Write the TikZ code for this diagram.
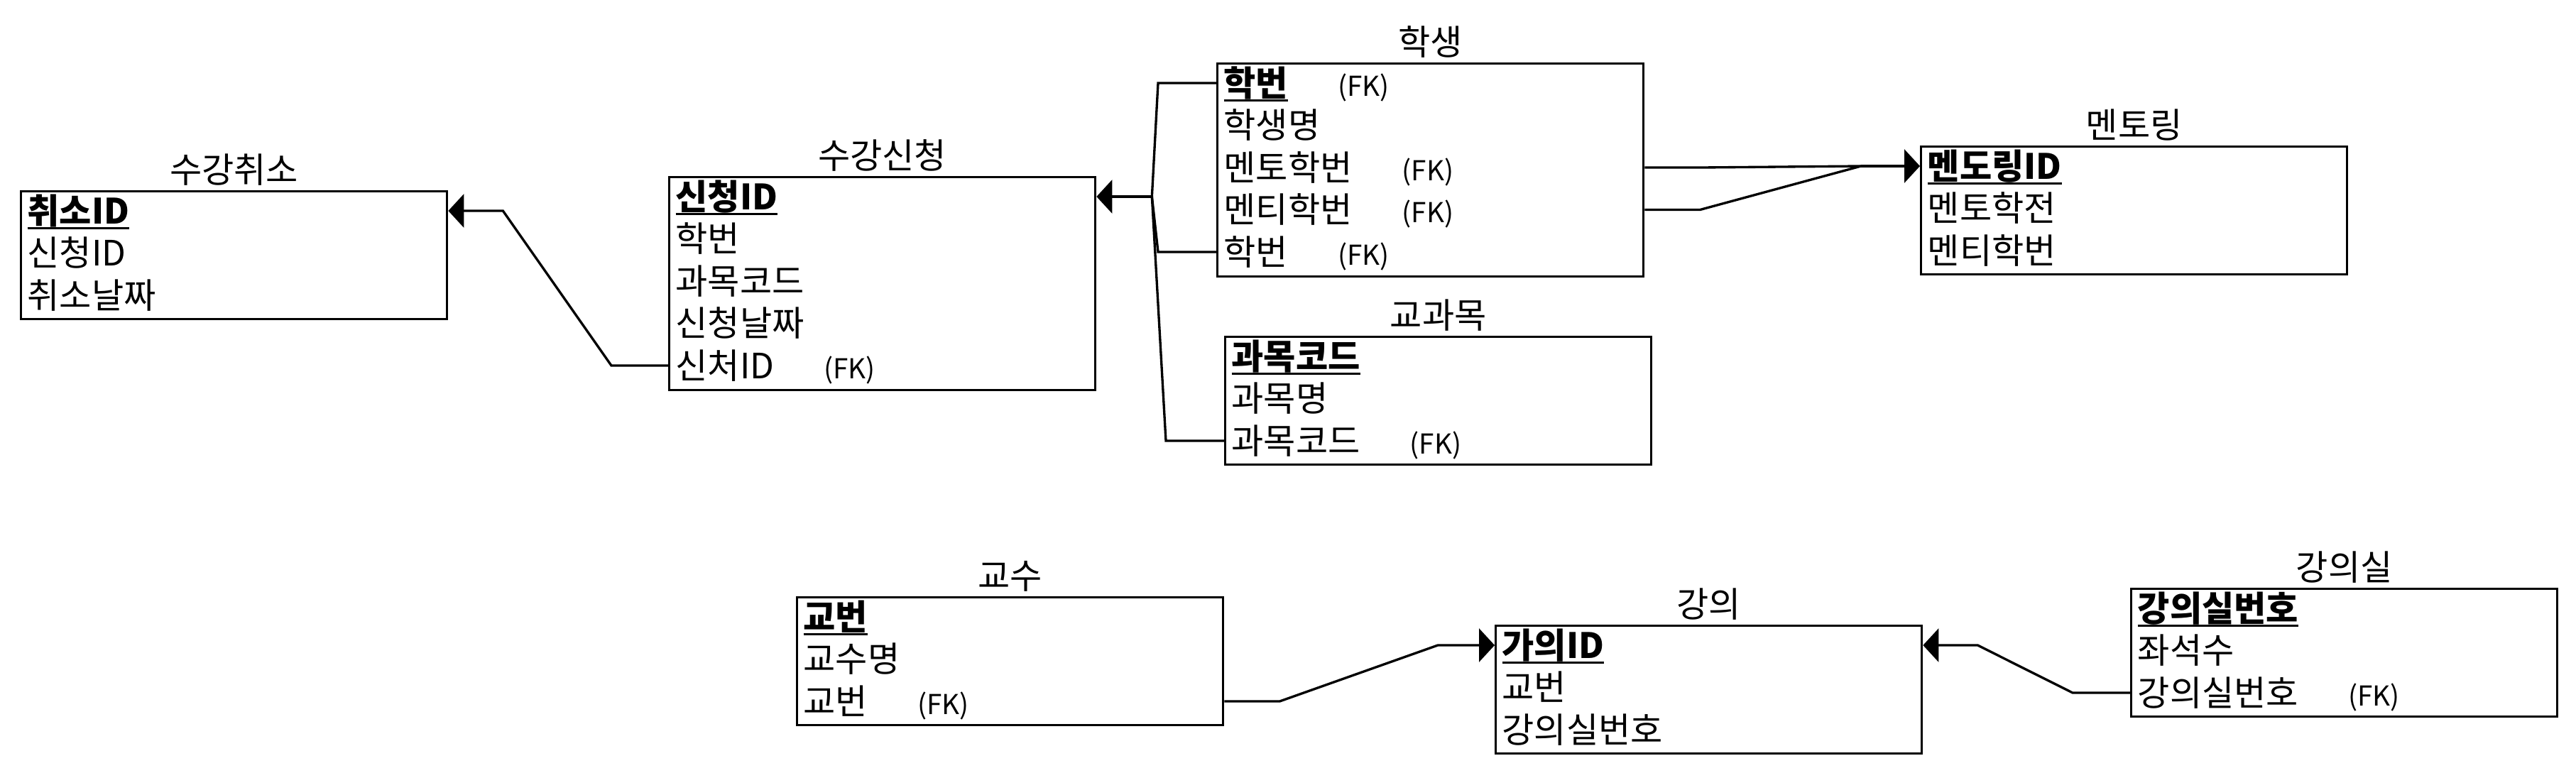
\documentclass[tikz,border=0pt]{standalone}
\usepackage{fontspec}
\setmainfont{Noto Sans CJK KR}
\usepackage{tikz}
\usetikzlibrary{arrows.meta,positioning}

\newcommand{\keyattr}[1]{\setbox0\hbox{\bfseries #1}\rlap{\lower0.15em\hbox{\vrule width\wd0 height 0.06em depth 0pt}}\box0}
\newcommand{\fklabel}{\hspace{0.7cm}{\fontsize{11}{13}\selectfont(FK)}}

\begin{document}
\begin{tikzpicture}[
    entity/.style={draw=black, line width=0.95pt, rectangle, anchor=north west, minimum width=6cm, minimum height=1.8cm, inner sep=0pt},
    tall/.style={entity, minimum height=3cm},
    title/.style={inner sep=0pt, font=\fontsize{14}{16}\selectfont, text height=12.3pt, text depth=1.8pt},
    row/.style={anchor=west, inner sep=0pt, font=\fontsize{14}{16}\selectfont, text height=12.3pt, text depth=1.8pt},
    conn/.style={line width=0.95pt},
    arrow/.style={conn, -{Triangle[length=0.22cm, width=0.47cm]}}
]
  \useasboundingbox (0,0) rectangle (36.28,-10.88);

  % Entities
  \node (can) [entity] at (0.28,-2.68) {};
  \node (enr) [tall] at (9.41,-2.48) {};
  \node (stu) [tall] at (17.13,-0.88) {};
  \node (crs) [entity] at (17.24,-4.73) {};
  \node (men) [entity] at (27.04,-2.05) {};
  \node (prf) [entity] at (11.21,-8.40) {};
  \node (lec) [entity] at (21.05,-8.80) {};
  \node (rom) [entity] at (30.00,-8.28) {};

  % Titles
  \node (t-can) [title, above=0.03cm of can] {수강취소};
  \node (t-enr) [title, above=0.03cm of enr] {수강신청};
  \node (t-stu) [title, above=0.03cm of stu] {학생};
  \node (t-crs) [title, above=0.03cm of crs] {교과목};
  \node (t-men) [title, above=0.03cm of men] {멘토링};
  \node (t-prf) [title, above=0.03cm of prf] {교수};
  \node (t-lec) [title, above=0.03cm of lec] {강의};
  \node (t-rom) [title, above=0.03cm of rom] {강의실};

  % Rows: 수강취소
  \node (c1) [row] at ([shift={(0.1,-0.29)}]can.north west) {\keyattr{취소ID}};
  \node (c2) [row] at ([yshift=-0.595cm]c1.west) {신청ID};
  \node (c3) [row] at ([yshift=-0.595cm]c2.west) {취소날짜};

  % Rows: 수강신청
  \node (e1) [row] at ([shift={(0.1,-0.29)}]enr.north west) {\keyattr{신청ID}};
  \node (e2) [row] at ([yshift=-0.595cm]e1.west) {학번};
  \node (e3) [row] at ([yshift=-0.595cm]e2.west) {과목코드};
  \node (e4) [row] at ([yshift=-0.595cm]e3.west) {신청날짜};
  \node (e5) [row] at ([yshift=-0.595cm]e4.west) {신처ID\fklabel};

  % Rows: 학생
  \node (s1) [row] at ([shift={(0.1,-0.29)}]stu.north west) {\keyattr{학번}\fklabel};
  \node (s2) [row] at ([yshift=-0.595cm]s1.west) {학생명};
  \node (s3) [row] at ([yshift=-0.595cm]s2.west) {멘토학번\fklabel};
  \node (s4) [row] at ([yshift=-0.595cm]s3.west) {멘티학번\fklabel};
  \node (s5) [row] at ([yshift=-0.595cm]s4.west) {학번\fklabel};

  % Rows: 교과목
  \node (k1) [row] at ([shift={(0.1,-0.29)}]crs.north west) {\keyattr{과목코드}};
  \node (k2) [row] at ([yshift=-0.595cm]k1.west) {과목명};
  \node (k3) [row] at ([yshift=-0.595cm]k2.west) {과목코드\fklabel};

  % Rows: 멘토링
  \node (m1) [row] at ([shift={(0.1,-0.29)}]men.north west) {\keyattr{멘도링ID}};
  \node (m2) [row] at ([yshift=-0.595cm]m1.west) {멘토학전};
  \node (m3) [row] at ([yshift=-0.595cm]m2.west) {멘티학번};

  % Rows: 교수
  \node (p1) [row] at ([shift={(0.1,-0.29)}]prf.north west) {\keyattr{교번}};
  \node (p2) [row] at ([yshift=-0.595cm]p1.west) {교수명};
  \node (p3) [row] at ([yshift=-0.595cm]p2.west) {교번\fklabel};

  % Rows: 강의
  \node (l1) [row] at ([shift={(0.1,-0.29)}]lec.north west) {\keyattr{가의ID}};
  \node (l2) [row] at ([yshift=-0.595cm]l1.west) {교번};
  \node (l3) [row] at ([yshift=-0.595cm]l2.west) {강의실번호};

  % Rows: 강의실
  \node (r1) [row] at ([shift={(0.1,-0.29)}]rom.north west) {\keyattr{강의실번호}};
  \node (r2) [row] at ([yshift=-0.595cm]r1.west) {좌석수};
  \node (r3) [row] at ([yshift=-0.595cm]r2.west) {강의실번호\fklabel};

  % Arrows
  \draw [arrow] (enr.west |- e5) -- ++(-0.80,0) -- ([xshift=0.77cm]can.east |- c1) -- (can.east |- c1);

  \coordinate (fork) at ([xshift=0.78cm]enr.east |- e1);
  \draw [arrow] (fork) -- (enr.east |- e1);
  \draw [conn] (stu.west |- s1) -- ++(-0.82,0) -- (fork);
  \draw [conn] (stu.west |- s5) -- ++(-0.82,0) -- (fork);
  \draw [conn] (crs.west |- k3) -- ++(-0.82,0) -- (fork);

  \coordinate (join) at ([xshift=-0.83cm]men.west |- m1);
  \draw [conn] (stu.east |- s3) -- ++(0.80,0) -- (join);
  \draw [conn] (stu.east |- s4) -- ++(0.78,0) -- (join);
  \draw [arrow] (join) -- (men.west |- m1);

  \draw [arrow] (prf.east |- p3) -- ++(0.78,0) -- ([xshift=-0.80cm]lec.west |- l1) -- (lec.west |- l1);
  \draw [arrow] (rom.west |- r3) -- ++(-0.81,0) -- ([xshift=0.77cm]lec.east |- l1) -- (lec.east |- l1);

\end{tikzpicture}
\end{document}
